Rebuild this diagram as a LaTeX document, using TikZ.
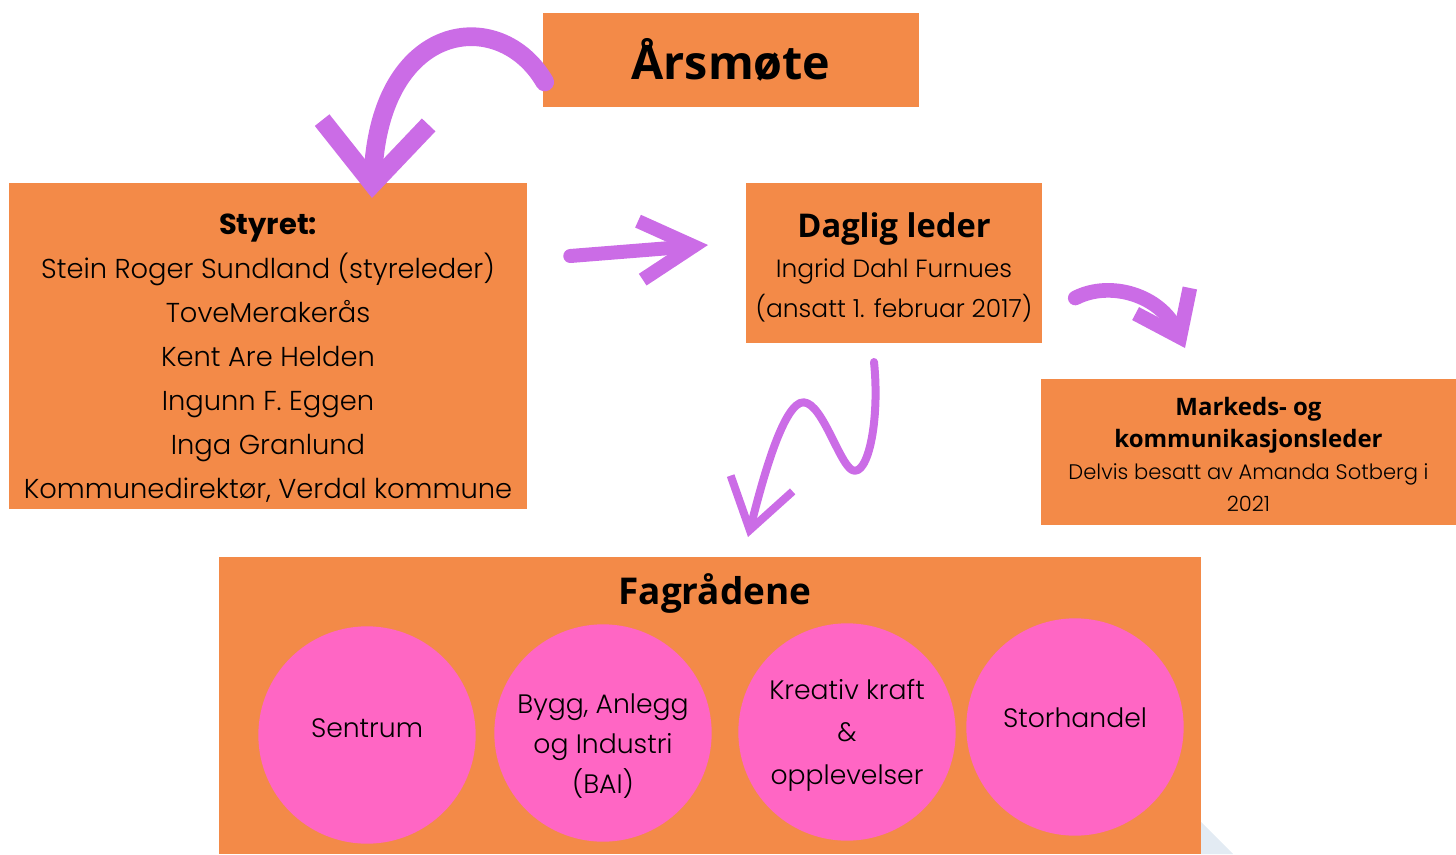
\documentclass[tikz,border=0pt]{standalone}
\usepackage{fontspec}
\setmainfont{Poppins Light}
\newfontfamily\headfont{Open Sans}
\newfontfamily\popfont{Poppins}
\usetikzlibrary{arrows.meta}

\definecolor{boxorange}{HTML}{F38A48}
\definecolor{circpink}{HTML}{FF66C4}
\definecolor{brushpurple}{HTML}{CB6CE6}
\definecolor{paleblue}{HTML}{E3EBF3}

\newcommand{\markhead}{\headfont\bfseries\fontsize{18}{24}\selectfont}
% struts to nudge the text inside a filled node
\newcommand{\tallstrut}[1]{\rule{0pt}{#1}}
\newcommand{\deepstrut}[1]{\rule[-#1]{0pt}{#1}}

\begin{document}
\begin{tikzpicture}[x=0.75pt,y=-0.75pt,
    box/.style={rectangle,fill=boxorange,inner sep=0pt,align=center,text=black},
    group/.style={circle,fill=circpink,minimum size=163pt,inner sep=0pt,align=center,
                  font=\fontsize{20}{30}\selectfont},
    brush/.style={draw=brushpurple,line cap=round,line join=round}]
	\useasboundingbox (0,0) rectangle (1456,854);
	\fill[paleblue] (1201,822) -- (1233,854) -- (1201,854) -- cycle;

	\node[box,minimum width=282pt,minimum height=70.5pt] (aarsmote) at (731,60)
		{\headfont\bfseries\fontsize{35}{40}\selectfont Årsmøte};
	\node[box,minimum width=388.5pt,minimum height=244.5pt,font=\fontsize{20.5}{33}\selectfont] (styret) at (268,346)
		{\tallstrut{34pt}{\popfont\bfseries\fontsize{21.7}{33}\selectfont Styret:}\\ Stein Roger Sundland (styreleder)\\ ToveMerakerås\\ Kent Are Helden\\
		 Ingunn F. Eggen\\ Inga Granlund\\ Kommunedirektør, Verdal kommune};
	\node[box,minimum width=222pt,minimum height=120pt,font=\fontsize{18.7}{30}\selectfont] (daglig) at (894,263)
		{\tallstrut{25pt}{\headfont\bfseries\fontsize{24.5}{30}\selectfont Daglig leder}\\ Ingrid Dahl Furnues\\ (ansatt 1. februar 2017)};
	\node[box,minimum width=311.25pt,minimum height=109.5pt,font=\fontsize{15.8}{24}\selectfont] (marked) at (1248.5,452)
		{\tallstrut{18pt}{\markhead Markeds- og}\\ {\markhead kommunikasjonsleder}\\
		 Delvis besatt av Amanda Sotberg i\\ 2021};
	\node[box,minimum width=736.5pt,minimum height=222.75pt] (fag) at (710,705.5) {};
	\node[font=\headfont\bfseries\fontsize{27.7}{30}\selectfont,inner sep=0pt] (fagtitle) at (715,593) {Fagrådene};

	\node[group] (sentrum) at (367,735) {Sentrum\deepstrut{10.5pt}};
	\node[group] (bai)     at (603,733) {\tallstrut{34pt}Bygg, Anlegg\\ og Industri\\ (BAI)};
	\node[group,font=\fontsize{20}{32}\selectfont] (kreativ) at (847,732) {\tallstrut{20pt}Kreativ kraft\\ \&\\ opplevelser};
	\node[group] (stor)    at (1075,727) {Storhandel\deepstrut{13.5pt}};

	% pensel-piler
	\draw[brush,line width=14pt,-{Straight Barb[length=46pt,width=80pt]}]
		(aarsmote.west) ++(2,22) .. controls (500,5) and (380,20) .. (372,198);
	\draw[brush,line width=10.5pt,-{Straight Barb[length=40pt,width=44pt]}]
		(styret.east) ++(43,-90) -- (708,245);
	\draw[brush,line width=6pt,-{Straight Barb[length=36pt,width=48pt]}]
		(874,362) .. controls (880,420) and (868,478) .. (852,470)
		.. controls (838,462) and (820,395) .. (800,403)
		.. controls (780,412) and (760,490) .. (748,537);
	\draw[brush,line width=11pt,-{Straight Barb[length=30pt,width=45pt]}]
		(daglig.east) ++(33,35) .. controls (1110,280) and (1160,295) .. (1185,348);
\end{tikzpicture}
\end{document}
